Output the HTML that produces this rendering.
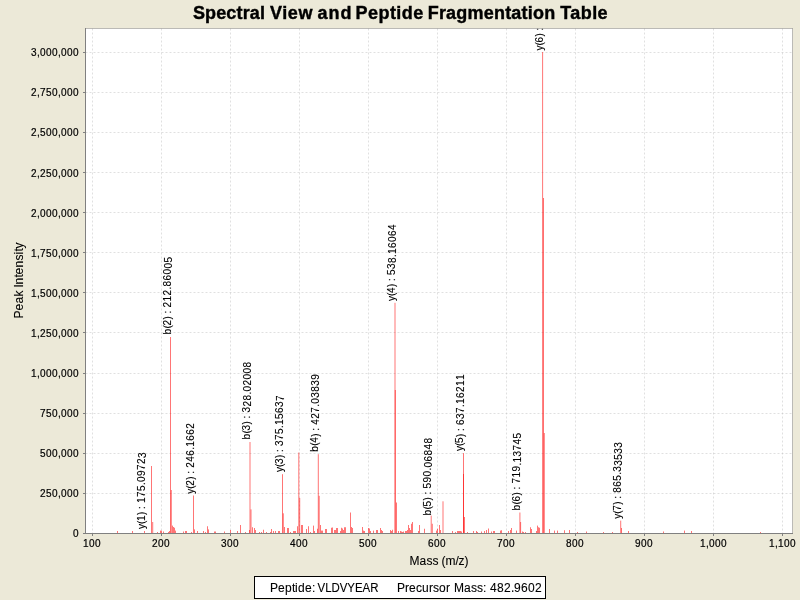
<!DOCTYPE html><html><head><meta charset="utf-8"><style>html,body{margin:0;padding:0;background:#ECE9D8;overflow:hidden;}svg{display:block;will-change:transform;}text{font-family:"Liberation Sans",sans-serif;stroke:#000;stroke-width:0.12px;}.t{stroke-width:0.4px;}.m{stroke-width:0.1px;}.k{stroke-width:0.2px;}.gp{fill:#000;stroke:#000;stroke-width:20;stroke-linejoin:round;}</style></head><body>
<svg width="800" height="600" viewBox="0 0 800 600">
<defs><clipPath id="pc"><rect x="85.5" y="28.5" width="707" height="505"/></clipPath></defs>
<rect x="0" y="0" width="800" height="600" fill="#ECE9D8"/>
<text class="t" x="192.90" y="19" font-size="18" font-weight="bold" fill="#000" letter-spacing="0.157">Spectral</text>
<text class="t" x="269.90" y="19" font-size="18" font-weight="bold" fill="#000" letter-spacing="0.633">View</text>
<text class="t" x="317.60" y="19" font-size="18" font-weight="bold" fill="#000" letter-spacing="1.000">and</text>
<text class="t" x="355.60" y="19" font-size="18" font-weight="bold" fill="#000" letter-spacing="0.433">Peptide</text>
<text class="t" x="427.70" y="19" font-size="18" font-weight="bold" fill="#000" letter-spacing="0.208">Fragmentation</text>
<text class="t" x="560.25" y="19" font-size="18" font-weight="bold" fill="#000" letter-spacing="0.412">Table</text>
<rect x="85.5" y="28.5" width="707" height="505" fill="#fff"/>
<g stroke="#C0C0C0" stroke-width="0.5" stroke-dasharray="2 2" fill="none">
<line x1="92.5" y1="28.5" x2="92.5" y2="533.5"/>
<line x1="161.5" y1="28.5" x2="161.5" y2="533.5"/>
<line x1="230.5" y1="28.5" x2="230.5" y2="533.5"/>
<line x1="299.5" y1="28.5" x2="299.5" y2="533.5"/>
<line x1="368.5" y1="28.5" x2="368.5" y2="533.5"/>
<line x1="437.5" y1="28.5" x2="437.5" y2="533.5"/>
<line x1="506.5" y1="28.5" x2="506.5" y2="533.5"/>
<line x1="575.5" y1="28.5" x2="575.5" y2="533.5"/>
<line x1="644.5" y1="28.5" x2="644.5" y2="533.5"/>
<line x1="713.5" y1="28.5" x2="713.5" y2="533.5"/>
<line x1="782.5" y1="28.5" x2="782.5" y2="533.5"/>
<line x1="85.5" y1="493.5" x2="792.5" y2="493.5"/>
<line x1="85.5" y1="453.5" x2="792.5" y2="453.5"/>
<line x1="85.5" y1="413.5" x2="792.5" y2="413.5"/>
<line x1="85.5" y1="373.5" x2="792.5" y2="373.5"/>
<line x1="85.5" y1="332.5" x2="792.5" y2="332.5"/>
<line x1="85.5" y1="292.5" x2="792.5" y2="292.5"/>
<line x1="85.5" y1="252.5" x2="792.5" y2="252.5"/>
<line x1="85.5" y1="212.5" x2="792.5" y2="212.5"/>
<line x1="85.5" y1="172.5" x2="792.5" y2="172.5"/>
<line x1="85.5" y1="132.5" x2="792.5" y2="132.5"/>
<line x1="85.5" y1="92.5" x2="792.5" y2="92.5"/>
<line x1="85.5" y1="52.5" x2="792.5" y2="52.5"/>
</g>
<g clip-path="url(#pc)" fill="rgba(255,0,0,0.54)">
<rect x="117.00" y="531.00" width="1" height="2.00"/>
<rect x="132.00" y="531.00" width="1" height="2.00"/>
<rect x="144.00" y="531.00" width="1" height="2.00"/>
<rect x="151.00" y="466.00" width="1" height="67.00"/>
<rect x="152.20" y="522.00" width="1" height="11.00"/>
<rect x="157.00" y="532.00" width="1" height="1.00"/>
<rect x="160.00" y="530.60" width="1" height="2.40"/>
<rect x="161.00" y="530.60" width="1" height="2.40"/>
<rect x="163.00" y="531.50" width="1" height="1.50"/>
<rect x="168.00" y="532.00" width="1" height="1.00"/>
<rect x="169.00" y="531.00" width="1" height="2.00"/>
<rect x="170.00" y="337.00" width="1" height="196.00"/>
<rect x="170.80" y="490.00" width="1" height="43.00"/>
<rect x="172.00" y="525.60" width="1" height="7.40"/>
<rect x="173.00" y="527.00" width="1" height="6.00"/>
<rect x="174.00" y="527.75" width="1" height="5.25"/>
<rect x="175.00" y="530.60" width="1" height="2.40"/>
<rect x="183.00" y="531.50" width="1" height="1.50"/>
<rect x="185.00" y="531.00" width="1" height="2.00"/>
<rect x="186.00" y="531.00" width="1" height="2.00"/>
<rect x="191.00" y="532.00" width="1" height="1.00"/>
<rect x="193.00" y="495.50" width="1" height="37.50"/>
<rect x="194.00" y="529.40" width="1" height="3.60"/>
<rect x="197.00" y="531.00" width="1" height="2.00"/>
<rect x="203.00" y="531.00" width="1" height="2.00"/>
<rect x="205.00" y="532.00" width="1" height="1.00"/>
<rect x="207.00" y="526.25" width="1" height="6.75"/>
<rect x="208.00" y="529.40" width="1" height="3.60"/>
<rect x="214.00" y="531.50" width="1" height="1.50"/>
<rect x="215.00" y="531.50" width="1" height="1.50"/>
<rect x="224.00" y="531.50" width="1" height="1.50"/>
<rect x="230.00" y="530.00" width="1" height="3.00"/>
<rect x="237.00" y="531.00" width="1" height="2.00"/>
<rect x="240.00" y="525.00" width="1" height="8.00"/>
<rect x="245.00" y="532.00" width="1" height="1.00"/>
<rect x="249.00" y="530.00" width="1" height="3.00"/>
<rect x="249.50" y="442.00" width="1" height="91.00"/>
<rect x="250.50" y="509.40" width="1" height="23.60"/>
<rect x="252.00" y="527.25" width="1" height="5.75"/>
<rect x="254.00" y="528.00" width="1" height="5.00"/>
<rect x="255.00" y="530.00" width="1" height="3.00"/>
<rect x="259.00" y="532.00" width="1" height="1.00"/>
<rect x="261.00" y="532.00" width="1" height="1.00"/>
<rect x="263.00" y="529.75" width="1" height="3.25"/>
<rect x="266.00" y="532.00" width="1" height="1.00"/>
<rect x="270.00" y="532.00" width="1" height="1.00"/>
<rect x="271.00" y="529.00" width="1" height="4.00"/>
<rect x="273.00" y="531.00" width="1" height="2.00"/>
<rect x="275.00" y="531.00" width="1" height="2.00"/>
<rect x="278.00" y="531.00" width="1" height="2.00"/>
<rect x="279.00" y="531.00" width="1" height="2.00"/>
<rect x="282.00" y="474.20" width="1" height="58.80"/>
<rect x="282.80" y="513.30" width="1" height="19.70"/>
<rect x="284.00" y="527.00" width="1" height="6.00"/>
<rect x="287.00" y="528.00" width="1" height="5.00"/>
<rect x="288.00" y="528.00" width="1" height="5.00"/>
<rect x="290.00" y="532.00" width="1" height="1.00"/>
<rect x="293.00" y="531.00" width="1" height="2.00"/>
<rect x="294.00" y="531.00" width="1" height="2.00"/>
<rect x="295.00" y="531.00" width="1" height="2.00"/>
<rect x="297.00" y="526.25" width="1" height="6.75"/>
<rect x="298.30" y="452.50" width="1" height="80.50"/>
<rect x="299.20" y="498.00" width="1" height="35.00"/>
<rect x="301.00" y="525.00" width="1" height="8.00"/>
<rect x="302.00" y="525.00" width="1" height="8.00"/>
<rect x="306.00" y="529.00" width="1" height="4.00"/>
<rect x="308.00" y="526.25" width="1" height="6.75"/>
<rect x="310.00" y="532.00" width="1" height="1.00"/>
<rect x="313.00" y="525.60" width="1" height="7.40"/>
<rect x="314.00" y="531.00" width="1" height="2.00"/>
<rect x="317.00" y="528.75" width="1" height="4.25"/>
<rect x="317.80" y="454.20" width="1" height="78.80"/>
<rect x="318.70" y="495.80" width="1" height="37.20"/>
<rect x="320.00" y="525.00" width="1" height="8.00"/>
<rect x="321.00" y="530.60" width="1" height="2.40"/>
<rect x="322.00" y="530.60" width="1" height="2.40"/>
<rect x="325.00" y="529.00" width="1" height="4.00"/>
<rect x="326.00" y="529.00" width="1" height="4.00"/>
<rect x="331.00" y="527.75" width="1" height="5.25"/>
<rect x="332.00" y="527.50" width="1" height="5.50"/>
<rect x="334.00" y="530.00" width="1" height="3.00"/>
<rect x="335.00" y="530.00" width="1" height="3.00"/>
<rect x="336.00" y="528.00" width="1" height="5.00"/>
<rect x="337.00" y="528.00" width="1" height="5.00"/>
<rect x="340.00" y="531.00" width="1" height="2.00"/>
<rect x="341.00" y="527.75" width="1" height="5.25"/>
<rect x="342.00" y="528.50" width="1" height="4.50"/>
<rect x="343.00" y="530.00" width="1" height="3.00"/>
<rect x="344.00" y="527.25" width="1" height="5.75"/>
<rect x="345.00" y="527.25" width="1" height="5.75"/>
<rect x="350.00" y="512.50" width="1" height="20.50"/>
<rect x="351.00" y="527.00" width="1" height="6.00"/>
<rect x="352.00" y="528.00" width="1" height="5.00"/>
<rect x="362.00" y="527.00" width="1" height="6.00"/>
<rect x="363.00" y="530.60" width="1" height="2.40"/>
<rect x="364.00" y="531.00" width="1" height="2.00"/>
<rect x="368.00" y="528.00" width="1" height="5.00"/>
<rect x="369.00" y="528.50" width="1" height="4.50"/>
<rect x="370.00" y="531.00" width="1" height="2.00"/>
<rect x="373.00" y="530.60" width="1" height="2.40"/>
<rect x="376.00" y="530.00" width="1" height="3.00"/>
<rect x="377.00" y="530.00" width="1" height="3.00"/>
<rect x="380.00" y="528.00" width="1" height="5.00"/>
<rect x="381.00" y="530.00" width="1" height="3.00"/>
<rect x="382.00" y="531.00" width="1" height="2.00"/>
<rect x="390.00" y="530.00" width="1" height="3.00"/>
<rect x="391.00" y="531.00" width="1" height="2.00"/>
<rect x="392.00" y="529.75" width="1" height="3.25"/>
<rect x="394.50" y="302.80" width="1" height="230.20"/>
<rect x="394.80" y="390.00" width="1" height="143.00"/>
<rect x="396.00" y="502.50" width="1" height="30.50"/>
<rect x="398.00" y="531.00" width="1" height="2.00"/>
<rect x="400.00" y="531.00" width="1" height="2.00"/>
<rect x="401.00" y="531.50" width="1" height="1.50"/>
<rect x="402.00" y="532.00" width="1" height="1.00"/>
<rect x="403.00" y="531.50" width="1" height="1.50"/>
<rect x="405.00" y="531.00" width="1" height="2.00"/>
<rect x="406.00" y="531.00" width="1" height="2.00"/>
<rect x="407.00" y="530.00" width="1" height="3.00"/>
<rect x="408.00" y="525.00" width="1" height="8.00"/>
<rect x="409.00" y="528.00" width="1" height="5.00"/>
<rect x="410.00" y="530.00" width="1" height="3.00"/>
<rect x="411.00" y="523.75" width="1" height="9.25"/>
<rect x="412.00" y="522.00" width="1" height="11.00"/>
<rect x="418.00" y="531.00" width="1" height="2.00"/>
<rect x="419.00" y="525.00" width="1" height="8.00"/>
<rect x="424.00" y="528.75" width="1" height="4.25"/>
<rect x="430.70" y="515.60" width="1" height="17.40"/>
<rect x="431.80" y="523.75" width="1" height="9.25"/>
<rect x="436.00" y="530.60" width="1" height="2.40"/>
<rect x="437.00" y="528.75" width="1" height="4.25"/>
<rect x="439.00" y="525.00" width="1" height="8.00"/>
<rect x="440.00" y="530.00" width="1" height="3.00"/>
<rect x="442.50" y="501.30" width="1" height="31.70"/>
<rect x="452.00" y="531.00" width="1" height="2.00"/>
<rect x="455.00" y="532.00" width="1" height="1.00"/>
<rect x="457.00" y="531.00" width="1" height="2.00"/>
<rect x="458.00" y="531.00" width="1" height="2.00"/>
<rect x="459.00" y="531.00" width="1" height="2.00"/>
<rect x="460.00" y="531.00" width="1" height="2.00"/>
<rect x="461.00" y="531.50" width="1" height="1.50"/>
<rect x="463.00" y="453.10" width="1" height="79.90"/>
<rect x="463.00" y="474.00" width="1" height="59.00"/>
<rect x="464.00" y="517.00" width="1" height="16.00"/>
<rect x="467.00" y="532.00" width="1" height="1.00"/>
<rect x="473.00" y="531.00" width="1" height="2.00"/>
<rect x="476.00" y="531.00" width="1" height="2.00"/>
<rect x="477.00" y="532.00" width="1" height="1.00"/>
<rect x="481.00" y="531.50" width="1" height="1.50"/>
<rect x="484.00" y="531.00" width="1" height="2.00"/>
<rect x="486.00" y="530.00" width="1" height="3.00"/>
<rect x="488.00" y="528.50" width="1" height="4.50"/>
<rect x="491.00" y="531.50" width="1" height="1.50"/>
<rect x="493.00" y="531.00" width="1" height="2.00"/>
<rect x="494.00" y="531.00" width="1" height="2.00"/>
<rect x="500.00" y="530.60" width="1" height="2.40"/>
<rect x="501.00" y="530.25" width="1" height="2.75"/>
<rect x="508.00" y="531.00" width="1" height="2.00"/>
<rect x="510.00" y="530.00" width="1" height="3.00"/>
<rect x="511.00" y="528.00" width="1" height="5.00"/>
<rect x="516.00" y="530.60" width="1" height="2.40"/>
<rect x="519.40" y="512.50" width="1" height="20.50"/>
<rect x="520.10" y="522.00" width="1" height="11.00"/>
<rect x="522.00" y="531.50" width="1" height="1.50"/>
<rect x="523.00" y="532.00" width="1" height="1.00"/>
<rect x="525.00" y="532.00" width="1" height="1.00"/>
<rect x="530.00" y="527.25" width="1" height="5.75"/>
<rect x="531.00" y="529.00" width="1" height="4.00"/>
<rect x="536.00" y="531.00" width="1" height="2.00"/>
<rect x="537.00" y="525.60" width="1" height="7.40"/>
<rect x="538.00" y="527.25" width="1" height="5.75"/>
<rect x="539.00" y="527.75" width="1" height="5.25"/>
<rect x="542.10" y="52.00" width="1" height="481.00"/>
<rect x="543.00" y="198.00" width="1" height="335.00"/>
<rect x="543.80" y="433.00" width="1" height="100.00"/>
<rect x="549.00" y="529.00" width="1" height="4.00"/>
<rect x="554.00" y="530.60" width="1" height="2.40"/>
<rect x="557.00" y="530.60" width="1" height="2.40"/>
<rect x="564.00" y="530.25" width="1" height="2.75"/>
<rect x="569.00" y="530.00" width="1" height="3.00"/>
<rect x="577.00" y="532.00" width="1" height="1.00"/>
<rect x="586.00" y="531.50" width="1" height="1.50"/>
<rect x="603.00" y="532.00" width="1" height="1.00"/>
<rect x="612.00" y="532.00" width="1" height="1.00"/>
<rect x="620.20" y="520.60" width="1" height="12.40"/>
<rect x="621.00" y="528.00" width="1" height="5.00"/>
<rect x="628.00" y="531.00" width="1" height="2.00"/>
<rect x="663.00" y="531.50" width="1" height="1.50"/>
<rect x="684.00" y="530.60" width="1" height="2.40"/>
<rect x="691.00" y="531.00" width="1" height="2.00"/>
<rect x="760.00" y="532.00" width="1" height="1.00"/>
</g>
<g clip-path="url(#pc)" font-size="10" fill="#000">
<text transform="translate(145.00,529.00) rotate(-90)" x="0 5 8 14 17 20 23 26 32 38 44 47 53 59 65 71" y="0 0 0 0 0 0 0 0 0 0 0 0 0 0 0 1" xml:space="preserve">y(1) : 175.09723</text>
<text transform="translate(171.00,334.50) rotate(-90)" x="0 6 9 15 18 21 24 27 33 39 45 48 54 60 66 72" y="0 0 0 0 0 0 0 0 0 0 0 0 0 0 1 1" xml:space="preserve">b(2) : 212.86005</text>
<text transform="translate(194.00,493.80) rotate(-90)" x="0 5 8 14 17 20 23 26 32 38 44 47 53 59 65" y="0 0 0 0 0 0 0 0 0 0 0 0 0 0 0" xml:space="preserve">y(2) : 246.1662</text>
<text transform="translate(250.00,439.50) rotate(-90)" x="0 6 9 15 18 21 24 27 33 39 45 48 54 60 66 72" y="0 0 0 0 0 0 0 0 1 1 1 1 1 1 1 1" xml:space="preserve">b(3) : 328.02008</text>
<text transform="translate(283.00,471.90) rotate(-90)" x="0 5 8 14 17 20 23 26 32 38 44 47 53 59 65 71" y="0 0 0 0 0 0 0 0 0 0 0 0 0 0 0 1" xml:space="preserve">y(3) : 375.15637</text>
<text transform="translate(318.00,451.70) rotate(-90)" x="0 6 9 15 18 21 24 27 33 39 45 48 54 60 66 72" y="0 0 0 1 1 1 1 1 1 1 1 1 1 1 1 1" xml:space="preserve">b(4) : 427.03839</text>
<text transform="translate(395.00,300.90) rotate(-90)" x="0 5 8 14 17 20 23 26 32 38 44 47 53 59 65 71" y="0 0 0 0 0 0 0 0 0 1 1 1 1 1 1 1" xml:space="preserve">y(4) : 538.16064</text>
<text transform="translate(431.00,515.40) rotate(-90)" x="0 6 9 15 18 21 24 27 33 39 45 48 54 60 66 72" y="0 0 0 0 0 0 0 0 0 0 0 1 1 1 1 1" xml:space="preserve">b(5) : 590.06848</text>
<text transform="translate(463.00,450.90) rotate(-90)" x="0 5 8 14 17 20 23 26 32 38 44 47 53 59 65 71" y="0 0 0 1 1 1 1 1 1 1 1 1 1 1 1 1" xml:space="preserve">y(5) : 637.16211</text>
<text transform="translate(520.00,510.50) rotate(-90)" x="0 6 9 15 18 21 24 27 33 39 45 48 54 60 66 72" y="0 0 0 0 0 0 0 0 0 0 1 1 1 1 1 1" xml:space="preserve">b(6) : 719.13745</text>
<text transform="translate(543.00,50.50) rotate(-90)" x="0 5 8 14 17 20 23 26 32 38 44 47 53 59 65 71" y="0 0 0 0 0 0 0 0 0 0 0 0 0 1 1 1" xml:space="preserve">y(6) : 752.37158</text>
<text transform="translate(621.00,518.80) rotate(-90)" x="0 5 8 14 17 20 23 26 32 38 44 47 53 59 65 71" y="0 0 0 0 0 0 0 0 0 0 0 0 1 1 1 1" xml:space="preserve">y(7) : 865.33533</text>
</g>
<rect x="85.5" y="28.25" width="707.25" height="0.5" fill="#808080"/>
<rect x="792.25" y="28.25" width="0.5" height="505.5" fill="#808080"/>
<rect x="83" y="533" width="710" height="1" fill="#808080"/>
<rect x="85" y="28" width="1" height="506" fill="#808080"/>
<rect x="83" y="533" width="2" height="1" fill="#808080"/>
<text class="k" x="73" y="537" font-size="10" fill="#000">0</text>
<rect x="83" y="493" width="2" height="1" fill="#808080"/>
<text class="k" x="40 46 52 58 61 67 73" y="497" font-size="10" fill="#000">250,000</text>
<rect x="83" y="453" width="2" height="1" fill="#808080"/>
<text class="k" x="40 46 52 58 61 67 73" y="457" font-size="10" fill="#000">500,000</text>
<rect x="83" y="413" width="2" height="1" fill="#808080"/>
<text class="k" x="40 46 52 58 61 67 73" y="417" font-size="10" fill="#000">750,000</text>
<rect x="83" y="373" width="2" height="1" fill="#808080"/>
<text class="k" x="31 37 40 46 52 58 61 67 73" y="377" font-size="10" fill="#000">1,000,000</text>
<rect x="83" y="332" width="2" height="1" fill="#808080"/>
<text class="k" x="31 37 40 46 52 58 61 67 73" y="337" font-size="10" fill="#000">1,250,000</text>
<rect x="83" y="292" width="2" height="1" fill="#808080"/>
<text class="k" x="31 37 40 46 52 58 61 67 73" y="297" font-size="10" fill="#000">1,500,000</text>
<rect x="83" y="252" width="2" height="1" fill="#808080"/>
<text class="k" x="31 37 40 46 52 58 61 67 73" y="257" font-size="10" fill="#000">1,750,000</text>
<rect x="83" y="212" width="2" height="1" fill="#808080"/>
<text class="k" x="31 37 40 46 52 58 61 67 73" y="217" font-size="10" fill="#000">2,000,000</text>
<rect x="83" y="172" width="2" height="1" fill="#808080"/>
<text class="k" x="31 37 40 46 52 58 61 67 73" y="177" font-size="10" fill="#000">2,250,000</text>
<rect x="83" y="132" width="2" height="1" fill="#808080"/>
<text class="k" x="31 37 40 46 52 58 61 67 73" y="136" font-size="10" fill="#000">2,500,000</text>
<rect x="83" y="92" width="2" height="1" fill="#808080"/>
<text class="k" x="31 37 40 46 52 58 61 67 73" y="96" font-size="10" fill="#000">2,750,000</text>
<rect x="83" y="52" width="2" height="1" fill="#808080"/>
<text class="k" x="31 37 40 46 52 58 61 67 73" y="56" font-size="10" fill="#000">3,000,000</text>
<rect x="92" y="534" width="1" height="2" fill="#808080"/>
<text class="k" x="83 89 95" y="547" font-size="10" fill="#000">100</text>
<rect x="161" y="534" width="1" height="2" fill="#808080"/>
<text class="k" x="152 158 164" y="547" font-size="10" fill="#000">200</text>
<rect x="230" y="534" width="1" height="2" fill="#808080"/>
<text class="k" x="221 227 233" y="547" font-size="10" fill="#000">300</text>
<rect x="299" y="534" width="1" height="2" fill="#808080"/>
<text class="k" x="290 296 302" y="547" font-size="10" fill="#000">400</text>
<rect x="368" y="534" width="1" height="2" fill="#808080"/>
<text class="k" x="359 365 371" y="547" font-size="10" fill="#000">500</text>
<rect x="437" y="534" width="1" height="2" fill="#808080"/>
<text class="k" x="428 434 440" y="547" font-size="10" fill="#000">600</text>
<rect x="506" y="534" width="1" height="2" fill="#808080"/>
<text class="k" x="497 503 509" y="547" font-size="10" fill="#000">700</text>
<rect x="575" y="534" width="1" height="2" fill="#808080"/>
<text class="k" x="566 572 578" y="547" font-size="10" fill="#000">800</text>
<rect x="644" y="534" width="1" height="2" fill="#808080"/>
<text class="k" x="635 641 647" y="547" font-size="10" fill="#000">900</text>
<rect x="713" y="534" width="1" height="2" fill="#808080"/>
<text class="k" x="700 706 709 715 721" y="547" font-size="10" fill="#000">1,000</text>
<rect x="782" y="534" width="1" height="2" fill="#808080"/>
<text class="k" x="769 775 778 784 790" y="547" font-size="10" fill="#000">1,100</text>
<text x="409.5 419.5 426.5 432.5 438.5 441.5 445.5 455.5 458.5 464.5" y="565" class="m" font-size="12" fill="#000" xml:space="preserve">Mass (m/z)</text>
<text transform="translate(23,280.5) rotate(-90)" x="-38 -30 -23 -16 -10 -7 -4 3 6 13 20 26 29 32" y="0" class="m" font-size="12" fill="#000" xml:space="preserve">Peak Intensity</text>
<rect x="254.5" y="576.5" width="291" height="22" fill="#fff" stroke="#000" stroke-width="1"/>
<text x="270 278 285 292 295 298 305 312 315" y="592" class="m" font-size="12" fill="#000" xml:space="preserve">Peptide: </text>
<text x="317.5" y="592" class="m" font-size="12" fill="#000" textLength="61" lengthAdjust="spacingAndGlyphs">VLDVYEAR</text>
<text x="397 405 409 416 422 429 433 439 446 450 454 464 471 477 483 487 490 497 504 511 514 521 528 535" y="592" class="m" font-size="12" fill="#000" xml:space="preserve">Precursor Mass: 482.9602</text>
</svg></body></html>
